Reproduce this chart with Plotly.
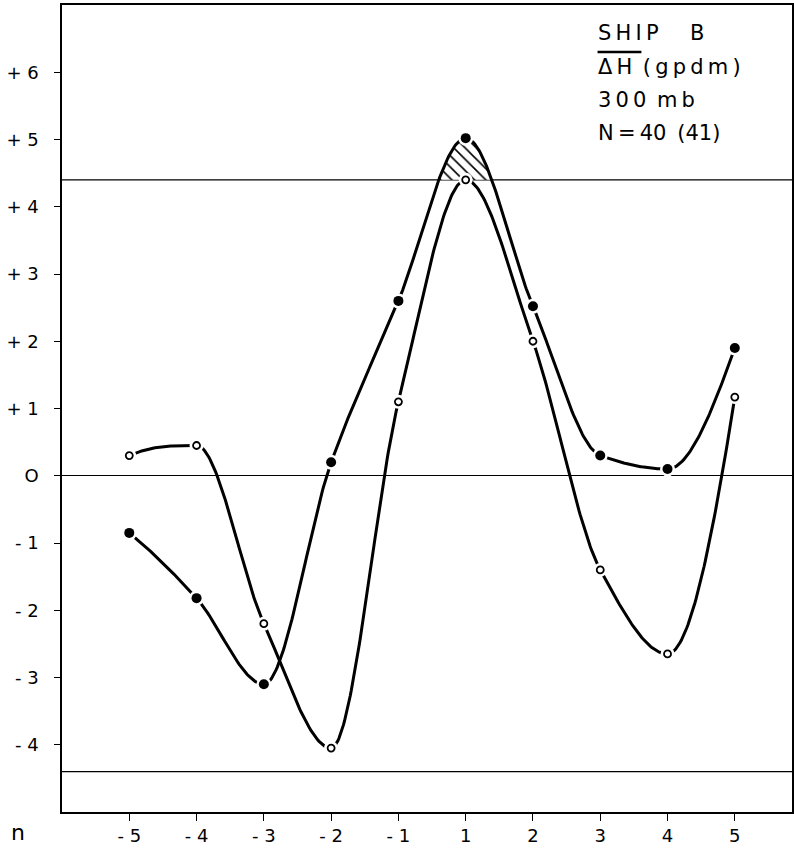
import numpy as np
import plotly.graph_objects as go

# ---- data ----
n_labels = ["- 5", "- 4", "- 3", "- 2", "- 1", "1", "2", "3", "4", "5"]
solid_vals = [-0.85, -1.82, -3.1, 0.2, 2.6, 5.02, 2.52, 0.3, 0.1, 1.9]
open_vals = [0.3, 0.45, -2.2, -4.05, 1.1, 4.4, 2.0, -1.4, -2.65, 1.17]
threshold = 4.4
y_tickvals = [6, 5, 4, 3, 2, 1, 0, -1, -2, -3, -4]
y_ticktext = ["+ 6", "+ 5", "+ 4", "+ 3", "+ 2", "+ 1", "O", "- 1", "- 2", "- 3", "- 4"]

xpos = np.arange(1, len(n_labels) + 1, dtype=float)


def pchip(xs, ys, steps=60):
    x = np.asarray(xs, float); y = np.asarray(ys, float)
    h = np.diff(x); d = np.diff(y) / h
    n = len(x); m = np.zeros(n)
    for k in range(1, n - 1):
        if d[k - 1] * d[k] > 0:
            w1 = 2 * h[k] + h[k - 1]; w2 = h[k] + 2 * h[k - 1]
            m[k] = (w1 + w2) / (w1 / d[k - 1] + w2 / d[k])
        else:
            m[k] = 0.0
    def end(h0, h1, d0, d1):
        s = ((2 * h0 + h1) * d0 - h0 * d1) / (h0 + h1)
        if np.sign(s) != np.sign(d0):
            s = 0.0
        elif np.sign(d0) != np.sign(d1) and abs(s) > abs(3 * d0):
            s = 3 * d0
        return s
    m[0] = end(h[0], h[1], d[0], d[1])
    m[-1] = end(h[-1], h[-2], d[-1], d[-2])
    ox, oy = [], []
    for k in range(n - 1):
        t = np.linspace(0, 1, steps, endpoint=(k == n - 2))
        h00 = 2 * t**3 - 3 * t**2 + 1; h10 = t**3 - 2 * t**2 + t
        h01 = -2 * t**3 + 3 * t**2; h11 = t**3 - t**2
        ox.extend(x[k] + t * h[k])
        oy.extend(h00 * y[k] + h10 * h[k] * m[k] + h01 * y[k + 1] + h11 * h[k] * m[k + 1])
    return np.array(ox), np.array(oy)


sx, sy = pchip(xpos, solid_vals)
ox_, oy_ = pchip(xpos, open_vals)

# hatched region: solid curve above threshold
idx = np.where(sy >= threshold)[0]
i0, i1 = idx[0], idx[-1]
def cross(a, b):
    f = (threshold - sy[a]) / (sy[b] - sy[a])
    return sx[a] + f * (sx[b] - sx[a])
xl = cross(i0 - 1, i0); xr = cross(i1, i1 + 1)
poly_x = np.concatenate([[xl], sx[idx], [xr], [xl]])
poly_y = np.concatenate([[threshold], sy[idx], [threshold], [threshold]])

fig = go.Figure()
xr_max = 10.85
for yv in (threshold, -threshold):
    fig.add_trace(go.Scatter(x=[0, xr_max], y=[yv, yv], mode="lines",
                             line=dict(color="black", width=1.3), hoverinfo="skip"))

fig.add_trace(go.Scatter(x=poly_x, y=poly_y, mode="lines", fill="toself",
                         fillcolor="white", line=dict(width=0),
                         fillpattern=dict(shape="\\", fgcolor="black", bgcolor="white",
                                          fgopacity=1, size=8, solidity=0.2)))

fig.add_trace(go.Scatter(x=sx, y=sy, mode="lines", line=dict(color="black", width=3)))
fig.add_trace(go.Scatter(x=ox_, y=oy_, mode="lines", line=dict(color="black", width=3)))

# markers
fig.add_trace(go.Scatter(x=xpos, y=solid_vals, mode="markers",
                         marker=dict(size=15, color="white", line=dict(width=0))))
fig.add_trace(go.Scatter(x=xpos, y=solid_vals, mode="markers",
                         marker=dict(size=10, color="black", line=dict(width=0))))
fig.add_trace(go.Scatter(x=xpos, y=open_vals, mode="markers",
                         marker=dict(size=14, color="white", line=dict(width=0))))
fig.add_trace(go.Scatter(x=xpos, y=open_vals, mode="markers",
                         marker=dict(size=7, color="white", line=dict(color="black", width=1.8))))

font = dict(family="DejaVu Sans", size=18, color="black")
fig.update_layout(
    width=794, height=856, showlegend=False,
    paper_bgcolor="white", plot_bgcolor="white",
    margin=dict(l=62, r=0, t=5, b=44),
    font=font,
    xaxis=dict(range=[0, xr_max], tickvals=list(xpos), ticktext=n_labels,
               showgrid=False, zeroline=False, showline=True, linecolor="black",
               linewidth=1.5, mirror=True, ticks="outside", ticklen=7,
               tickcolor="black", tickwidth=1.2, tickfont=font),
    yaxis=dict(range=[-5, 7], tickvals=y_tickvals, ticktext=y_ticktext,
               showgrid=False, zeroline=True, zerolinecolor="black", zerolinewidth=1.2,
               showline=True, linecolor="black", linewidth=1.5, mirror=True,
               ticks="outside", ticklen=6, tickcolor="black", tickwidth=1.2,
               tickfont=font, ticklabelstandoff=12),
)

fig.add_annotation(xref="paper", yref="paper", x=-62 / 732 + 18 / 732, y=-20 / 807,
                   xanchor="center", yanchor="middle", text="n", showarrow=False,
                   font=dict(family="DejaVu Sans", size=22))

ts = "\u2009"
lines = [ts.join("SHIP") + "\u2003\u2002B",
         ts.join("ΔH") + "\u2002" + ts.join("(gpdm)"),
         ts.join("300") + "\u2002" + ts.join("mb"),
         "N" + ts + "=" + ts + "40" + "\u2009 " + "(41)"]
ys_px = [33, 67, 100, 133]
for t, ypx in zip(lines, ys_px):
    fig.add_annotation(xref="paper", yref="paper", x=(597 - 62) / 732,
                       y=1 - (ypx - 5) / 807, xanchor="left", yanchor="middle",
                       text=t, showarrow=False,
                       font=dict(family="DejaVu Sans", size=21, color="black"))
fig.add_shape(type="line", xref="paper", yref="paper",
              x0=(599 - 62) / 732, x1=(643 - 62) / 732,
              y0=1 - (52 - 5) / 807, y1=1 - (52 - 5) / 807,
              line=dict(color="black", width=2.5))

fig.write_html("out.html")
